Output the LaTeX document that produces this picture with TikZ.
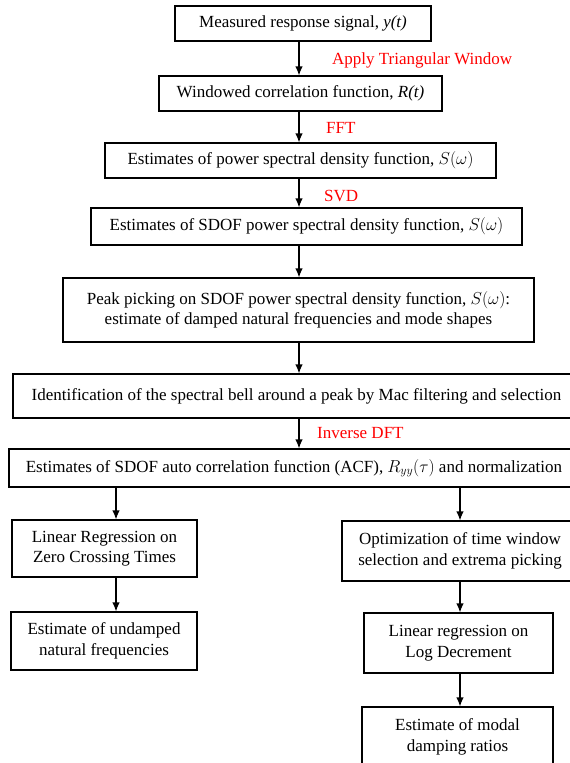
\documentclass[tikz,border=0pt]{standalone}
\usepackage{fontspec}
\setmainfont{Liberation Serif}
\newfontfamily\stagefont{Liberation Serif}
\usetikzlibrary{arrows.meta}
\begin{document}
\begin{tikzpicture}[x=1pt,y=-1pt,
    stage/.style={draw,line width=1.2pt,align=center,inner sep=0pt,
      font=\stagefont\fontsize{17}{20.5}\selectfont},
    oplabel/.style={anchor=west,text=red,inner sep=0pt,
      font=\stagefont\fontsize{17}{20}\selectfont}]
      \useasboundingbox (0,0) rectangle (570,763);
      \draw
        (303,23.5) node[stage,minimum width=256pt,minimum height=35pt] (0)
          {Measured response signal, \textit{y(t)}}
        (300.5,93.5) node[stage,minimum width=283pt,minimum height=35pt] (1)
          {Windowed correlation function, \textit{R(t)}}
        (300.5,160.5) node[stage,minimum width=391pt,minimum height=35pt] (2)
          {Estimates of power spectral density function, $S(\omega)$}
        (306.5,226.5) node[stage,minimum width=431pt,minimum height=37pt] (3)
          {Estimates of SDOF power spectral density function, $S(\omega)$}
        (298.5,310) node[stage,minimum width=471pt,minimum height=64pt] (4)
          {Peak picking on SDOF power spectral density function, $S(\omega)$:\\
           estimate of damped natural frequencies and mode shapes}
        (296.5,396) node[stage,minimum width=567pt,minimum height=44pt] (5)
          {Identification of the spectral bell around a peak by Mac filtering and selection}
        (294,468) node[stage,minimum width=570pt,minimum height=38pt] (6)
          {Estimates of SDOF auto correlation function (ACF), $R_{yy}(\tau)$ and normalization}
        (104.5,548.5) node[stage,minimum width=185pt,minimum height=57pt] (7)
          {Linear Regression on\\ Zero Crossing Times}
        (104,641) node[stage,minimum width=186pt,minimum height=58pt] (8)
          {Estimate of undamped\\ natural frequencies}
        (460,551) node[stage,minimum width=236pt,minimum height=60pt] (9)
          {Optimization of time window\\ selection and extrema picking}
        (458.5,643) node[stage,minimum width=189pt,minimum height=60pt] (10)
          {Linear regression on\\ Log Decrement}
        (457.5,737) node[stage,minimum width=191pt,minimum height=60pt] (11)
          {Estimate of modal\\ damping ratios};
      \draw
        (332,60) node[oplabel] (l0) {Apply Triangular Window}
        (326,128) node[oplabel] (l1) {FFT}
        (324,196) node[oplabel] (l2) {SVD}
        (317,433) node[oplabel] (l3) {Inverse DFT};
      \coordinate (spine) at (299,0);
      \coordinate (lcol) at (116,0);
      \coordinate (rcol) at (460,0);
      \begin{scope}[-{Latex[length=9pt,width=7.5pt]},line width=1.2pt]
        \draw (0.south -| spine) to (1.north -| spine);
        \draw (1.south -| spine) to (2.north -| spine);
        \draw (2.south -| spine) to (3.north -| spine);
        \draw (3.south -| spine) to (4.north -| spine);
        \draw (4.south -| spine) to (5.north -| spine);
        \draw (5.south -| spine) to (6.north -| spine);
        \draw (6.south -| lcol) to (7.north -| lcol);
        \draw (7.south -| lcol) to (8.north -| lcol);
        \draw (6.south -| rcol) to (9.north -| rcol);
        \draw (9.south -| rcol) to (10.north -| rcol);
        \draw (10.south -| rcol) to (11.north -| rcol);
      \end{scope}
    \end{tikzpicture}
\end{document}
